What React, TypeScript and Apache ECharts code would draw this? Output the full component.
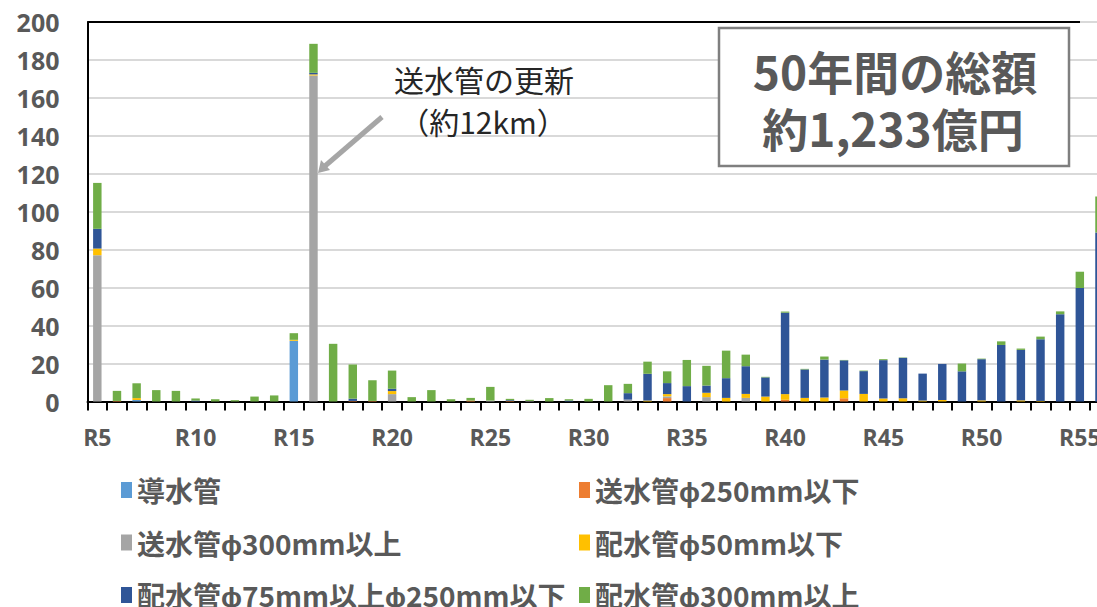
import React, { useEffect, useRef } from "react";
import * as echarts from "echarts";

// 年度（令和）
const years = [
  "R5", "R6", "R7", "R8", "R9", "R10", "R11", "R12", "R13", "R14",
  "R15", "R16", "R17", "R18", "R19", "R20", "R21", "R22", "R23", "R24",
  "R25", "R26", "R27", "R28", "R29", "R30", "R31", "R32", "R33", "R34",
  "R35", "R36", "R37", "R38", "R39", "R40", "R41", "R42", "R43", "R44",
  "R45", "R46", "R47", "R48", "R49", "R50", "R51", "R52", "R53", "R54",
  "R55", "R56",
];

// 更新費用（億円）
const dousuikan = [
  0, 0, 0.8, 0, 0, 0, 0, 0, 0, 0,
  32, 0, 0, 0, 0, 0, 0, 0, 0, 0,
  0, 0, 0, 0, 0, 0, 0, 0, 0, 0,
  0, 0, 0, 0, 0, 0, 0, 0, 0, 0,
  0, 0, 0, 0, 0, 0, 0, 0, 0, 0,
  0, 0,
];
const sousuiSmall = [
  0, 0.3, 0, 0, 0, 0, 0, 0, 0, 0,
  0, 0, 0, 0.3, 0.3, 0, 0, 0, 0, 0.5,
  0, 0.3, 0, 0, 0, 0, 0, 0, 0, 1.8,
  0, 0, 0, 0, 0, 0.9, 0, 0, 1.7, 0,
  0, 0, 0, 0, 0, 0, 0, 0, 0, 0,
  0, 0,
];
const sousuiLarge = [
  77.1, 0, 0, 0, 0, 0, 0, 0, 0, 0,
  0, 171.8, 0, 0, 0, 3.9, 0, 0, 0, 0,
  0.5, 0, 0.3, 0, 0, 0, 0, 1.0, 0, 0.9,
  0, 2.3, 0, 1.9, 0, 0, 0, 0, 0, 0,
  0, 0, 0, 0, 0, 0, 0, 0, 0, 0,
  0, 0,
];
const haisui50 = [
  3.5, 0, 1.0, 0, 0, 0, 0, 0, 0, 0,
  0.5, 0.6, 0, 0, 0, 1.6, 0, 0, 0, 0,
  0, 0, 0, 0, 0, 0, 0, 0, 0.5, 1.2,
  0, 2.3, 1.9, 2.1, 2.6, 3.0, 1.9, 2.1, 4.1, 4.0,
  1.6, 1.7, 0.5, 0.8, 0, 0.6, 0, 0.6, 0.3, 0,
  0, 0,
];
const haisui75 = [
  10.4, 0, 0, 0, 0, 0.5, 0, 0, 0, 0,
  0, 0.8, 0, 1.2, 0, 1.2, 0, 0, 0, 0,
  0, 0.4, 0, 0, 0.5, 0, 0, 3.4, 14.1, 5.8,
  8.1, 3.8, 10.4, 14.6, 10.1, 42.9, 15.0, 20.0, 15.9, 12.0,
  20.2, 21.3, 14.2, 19.0, 15.9, 21.7, 29.8, 26.6, 32.5, 46.0,
  59.8, 89.0,
];
const haisui300 = [
  24.2, 5.3, 7.8, 6.0, 5.6, 1.1, 1.2, 0.7, 2.6, 3.2,
  3.5, 15.3, 30.4, 18.0, 10.9, 9.6, 2.3, 6.0, 1.2, 1.4,
  7.2, 0.7, 0.6, 1.8, 0.7, 1.4, 8.6, 4.9, 6.4, 6.2,
  13.8, 10.4, 14.5, 6.1, 0.3, 0.6, 0.3, 1.6, 0.2, 0.3,
  0.5, 0.2, 0, 0, 4.1, 0.3, 1.9, 0.7, 1.4, 1.5,
  8.6, 19.0,
];

const seriesNames = [
  "導水管",
  "送水管ϕ250mm以下",
  "送水管ϕ300mm以上",
  "配水管ϕ50mm以下",
  "配水管ϕ75mm以上ϕ250mm以下",
  "配水管ϕ300mm以上",
];
const seriesData = [dousuikan, sousuiSmall, sousuiLarge, haisui50, haisui75, haisui300];
const seriesColors = ["#5b9bd5", "#ed7d31", "#a5a5a5", "#ffc000", "#2f5597", "#70ad47"];

const yTicks = { min: 0, max: 200, interval: 20 };

const labelGray = "#595959";
const jpFont = "'Noto Sans CJK JP', sans-serif";
const numFont = "'Open Sans', 'Noto Sans CJK JP', sans-serif";

// the drawing surface is a little larger than the visible frame, so the
// axis runs on past the right edge and the legend has room below
const CHART_W = 1130;
const CHART_H = 660;

export default function App() {
  const ref = useRef<HTMLDivElement>(null);

  useEffect(() => {
    if (!ref.current) return;
    const chart = echarts.init(ref.current, null, { renderer: "svg" });

    const legendText = {
      fontFamily: jpFont,
      fontWeight: "bold" as const,
      fontSize: 28,
      color: labelGray,
      lineHeight: 30,
    };

    const legendCommon = {
      orient: "vertical" as const,
      top: 470,
      height: 170,
      itemGap: 22.5,
      itemWidth: 11,
      itemHeight: 16,
      icon: "rect",
      textStyle: legendText,
    };

    chart.setOption({
      animation: false,
      backgroundColor: "#ffffff",
      grid: {
        left: 87.5,
        top: 22,
        bottom: CHART_H - 401.5,
        right: CHART_W - 1109.3,
        containLabel: false,
      },
      xAxis: {
        type: "category",
        data: years,
        boundaryGap: true,
        axisLine: { show: true, lineStyle: { color: "#000000", width: 2 } },
        axisTick: { show: true, interval: 0, length: 9, lineStyle: { color: "#000000", width: 2 } },
        axisLabel: {
          interval: (idx: number) => idx % 5 === 0,
          margin: 24,
          fontFamily: numFont,
          fontWeight: "bold",
          fontSize: 23,
          color: labelGray,
        },
        splitLine: { show: false },
      },
      yAxis: {
        type: "value",
        min: yTicks.min,
        max: yTicks.max,
        interval: yTicks.interval,
        axisLine: { show: true, lineStyle: { color: "#000000", width: 2 } },
        axisTick: { show: false },
        axisLabel: {
          margin: 28,
          fontFamily: numFont,
          fontWeight: "bold",
          fontSize: 25,
          color: labelGray,
        },
        splitLine: { show: true, lineStyle: { color: "#d9d9d9", width: 2 } },
      },
      legend: [
        {
          ...legendCommon,
          left: 116,
          data: [seriesNames[0], seriesNames[2], seriesNames[4]],
        },
        {
          ...legendCommon,
          left: 574,
          data: [seriesNames[1], seriesNames[3], seriesNames[5]],
        },
      ],
      series: seriesNames.map((name, i) => ({
        name,
        type: "bar",
        stack: "total",
        barWidth: "43%",
        data: seriesData[i],
        itemStyle: { color: seriesColors[i] },
        emphasis: { disabled: true },
      })),
      graphic: [
        // plot area top border
        {
          type: "line",
          shape: { x1: 87.5, y1: 22, x2: 1080, y2: 22 },
          style: { stroke: "#000000", lineWidth: 2 },
          z: 10,
        },
        // 送水管の更新 callout
        {
          type: "text",
          x: 484,
          y: 79,
          style: {
            text: "送水管の更新",
            fontFamily: jpFont,
            fontSize: 30,
            lineHeight: 34,
            fill: "#262626",
            align: "center",
            verticalAlign: "middle",
          },
          z: 10,
        },
        {
          type: "text",
          x: 483,
          y: 121,
          style: {
            text: "（約12km）",
            fontFamily: jpFont,
            fontSize: 30,
            lineHeight: 34,
            fill: "#262626",
            align: "center",
            verticalAlign: "middle",
          },
          z: 10,
        },
        {
          type: "line",
          shape: { x1: 382, y1: 117, x2: 325, y2: 166 },
          style: { stroke: "#a6a6a6", lineWidth: 5 },
          z: 10,
        },
        {
          type: "polygon",
          shape: { points: [[318, 173], [330, 170], [321, 160]] },
          style: { fill: "#a6a6a6" },
          z: 10,
        },
        // total amount box
        {
          type: "rect",
          shape: { x: 719, y: 28, width: 350, height: 138 },
          style: { fill: "#ffffff", stroke: "#7f7f7f", lineWidth: 2.5 },
          z: 10,
        },
        {
          type: "text",
          x: 895,
          y: 70,
          style: {
            text: "50年間の総額",
            fontFamily: jpFont,
            fontWeight: "bold",
            fontSize: 46,
            lineHeight: 46,
            fill: labelGray,
            align: "center",
            verticalAlign: "middle",
          },
          z: 11,
        },
        {
          type: "text",
          x: 893,
          y: 127,
          style: {
            text: "約1,233億円",
            fontFamily: jpFont,
            fontWeight: "bold",
            fontSize: 46,
            lineHeight: 46,
            fill: labelGray,
            align: "center",
            verticalAlign: "middle",
          },
          z: 11,
        },
      ],
    });

    return () => chart.dispose();
  }, []);

  return (
    <div
      style={{
        position: "fixed",
        left: 0,
        top: 0,
        width: 1097,
        height: 607,
        overflow: "hidden",
        background: "#ffffff",
      }}
    >
      <div ref={ref} style={{ width: CHART_W, height: CHART_H }} />
    </div>
  );
}
